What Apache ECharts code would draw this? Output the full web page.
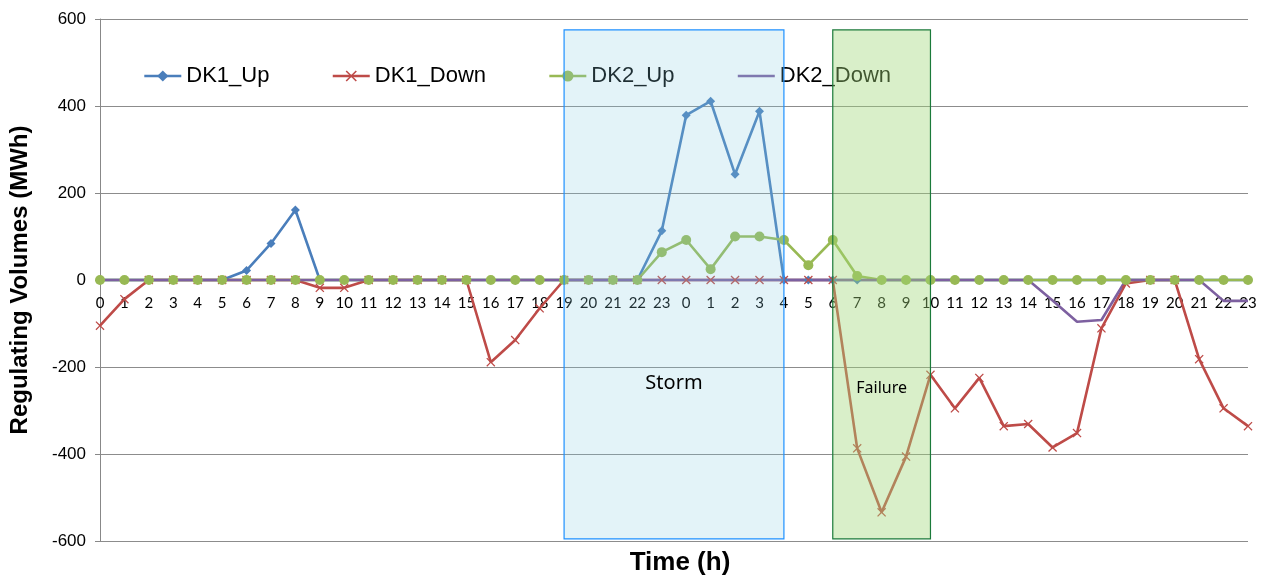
<!DOCTYPE html>
<html>
<head>
<meta charset="utf-8">
<script src="https://cdn.jsdelivr.net/npm/echarts@6/dist/echarts.min.js"></script>
<style>
html,body{margin:0;padding:0;background:#fff;}
#chart{width:1261px;height:581px;}
</style>
</head>
<body>
<div id="chart"></div>
<script>
// Hour tick labels: two consecutive days
const hours = [
  '0','1','2','3','4','5','6','7','8','9','10','11','12','13','14','15','16','17','18','19','20','21','22','23',
  '0','1','2','3','4','5','6','7','8','9','10','11','12','13','14','15','16','17','18','19','20','21','22','23'
];
const dk1Up = [
  0,0,0,0,0,0,22,84,161,0,0,0,0,0,0,0,0,0,0,0,0,0,0,113,
  379,411,243,388,0,0,0,0,0,0,0,0,0,0,0,0,0,0,0,0,0,0,0,0
];
const dk1Down = [
  -105,-44,0,0,0,0,0,0,0,-18,-18,0,0,0,0,0,-189,-138,-65,0,0,0,0,0,
  0,0,0,0,0,0,0,-387,-534,-406,-218,-295,-225,-336,-331,-385,-352,-111,-8,0,0,-182,-295,-336
];
const dk2Up = [
  0,0,0,0,0,0,0,0,0,0,0,0,0,0,0,0,0,0,0,0,0,0,0,64,
  92,25,100,100,92,34,92,9,0,0,0,0,0,0,0,0,0,0,0,0,0,0,0,0
];
const dk2Down = [
  0,0,0,0,0,0,0,0,0,0,0,0,0,0,0,0,0,0,0,0,0,0,0,0,
  0,0,0,0,0,0,0,0,0,0,0,0,0,0,0,-47,-96,-92,0,0,0,0,-48,-48
];
const yTicks = [-600, -400, -200, 0, 200, 400, 600];
// Highlighted periods: [start index, end index, top value, bottom value]
const stormSpan = [19, 28, 575, -595];
const failureSpan = [30, 34, 575, -595];

const xPath = 'path://M0,1L1,0L5,4L9,0L10,1L6,5L10,9L9,10L5,6L1,10L0,9L4,5Z';

const W = 1261, H = 581;
const gridTop = 19, gridBottom = 40;
const yMin = yTicks[0], yMax = yTicks[yTicks.length - 1];
const plotH = H - gridTop - gridBottom;
// shift the category axis up so it sits on the zero line
const zeroOffset = -plotH * (0 - yMin) / (yMax - yMin);

const chart = echarts.init(document.getElementById('chart'));
chart.setOption({
  animation: false,
  backgroundColor: '#ffffff',
  grid: {left: 100, right: 13, top: gridTop, bottom: gridBottom, containLabel: false},
  title: {
    text: 'Time (h)',
    left: 675, top: 545, textAlign: 'center',
    textStyle: {fontFamily: 'Liberation Sans', fontWeight: 'bold', fontSize: 26, color: '#000', letterSpacing: -2.2}
  },
  legend: {
    left: 138, top: 60,
    itemWidth: 37, itemHeight: 14, itemGap: 62,
    lineStyle: {width: 2.6},
    data: ['DK1_Up', 'DK1_Down', 'DK2_Up', {name: 'DK2_Down', itemStyle: {opacity: 0}}],
    textStyle: {fontFamily: 'Liberation Sans', fontSize: 22, color: '#000', letterSpacing: -0.5}
  },
  xAxis: {
    type: 'category',
    data: hours,
    boundaryGap: false,
    offset: zeroOffset,
    axisLine: {show: true, onZero: false, lineStyle: {color: '#888', width: 1}},
    axisTick: {show: false},
    axisLabel: {interval: 0, margin: 16, fontFamily: 'Lato', fontSize: 15, color: '#000'},
    splitLine: {show: false}
  },
  yAxis: {
    type: 'value',
    min: yMin, max: yMax, interval: 200,
    name: 'Regulating Volumes (MWh)',
    nameLocation: 'middle', nameGap: 68, nameRotate: 90,
    nameTextStyle: {fontFamily: 'Liberation Sans', fontWeight: 'bold', fontSize: 24, color: '#000', letterSpacing: -1.5},
    axisLine: {show: true, lineStyle: {color: '#888', width: 1}},
    axisTick: {show: true, inside: false, length: 5, lineStyle: {color: '#888'}},
    axisLabel: {margin: 14, fontFamily: 'Liberation Sans', fontSize: 17, color: '#000'},
    splitLine: {show: true, lineStyle: {color: '#8c8c8c', width: 1}}
  },
  series: [
    {
      name: 'DK1_Up', type: 'line', data: dk1Up,
      symbol: 'diamond', symbolSize: 9, showAllSymbol: true,
      lineStyle: {color: '#4a7ebb', width: 2.6},
      itemStyle: {color: '#4a7ebb'}
    },
    {
      name: 'DK1_Down', type: 'line', data: dk1Down,
      symbol: xPath, symbolSize: 9, showAllSymbol: true,
      lineStyle: {color: '#be4b48', width: 2.6},
      itemStyle: {color: '#be4b48'}
    },
    {
      name: 'DK2_Up', type: 'line', data: dk2Up,
      symbol: 'circle', symbolSize: 10, showAllSymbol: true,
      lineStyle: {color: '#98b954', width: 2.6},
      itemStyle: {color: '#98b954'}
    },
    {
      name: 'DK2_Down', type: 'line', data: dk2Down,
      symbol: 'none',
      lineStyle: {color: '#7d60a0', width: 2.6},
      itemStyle: {color: '#7d60a0'}
    },
    {
      name: 'periods', type: 'line', data: [],
      markArea: {
        z: 10,
        silent: true,
        data: [
          [
            {
              xAxis: stormSpan[0], yAxis: stormSpan[2],
              itemStyle: {color: 'rgba(132,202,224,0.23)', borderColor: '#1e90ff', borderWidth: 1.2},
              label: {show: true, position: 'inside', offset: [0, 99], formatter: 'Storm',
                fontFamily: 'Noto Sans', fontSize: 20, color: '#000'}
            },
            {xAxis: stormSpan[1], yAxis: stormSpan[3]}
          ],
          [
            {
              xAxis: failureSpan[0], yAxis: failureSpan[2],
              itemStyle: {color: 'rgba(160,215,120,0.4)', borderColor: '#1b7a3a', borderWidth: 1.2},
              label: {show: true, position: 'inside', offset: [0, 104], formatter: 'Failure',
                fontFamily: 'Noto Sans', fontSize: 16, color: '#000'}
            },
            {xAxis: failureSpan[1], yAxis: failureSpan[3]}
          ]
        ]
      }
    }
  ]
});
</script>
</body>
</html>
